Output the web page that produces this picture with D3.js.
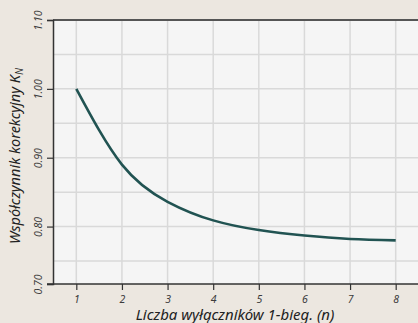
<!DOCTYPE html>
<html>
<head>
<meta charset="utf-8">
<script src="https://cdn.jsdelivr.net/npm/d3@7"></script>
<style>
  body { margin: 0; background: #ece7e0; }
  svg { display: block; }
  text { font-family: "Noto Sans", "Open Sans", sans-serif; font-style: italic; }
</style>
</head>
<body>
<div class="chart"></div>
<script>
  // Data
  const nValues = [1, 2, 3, 4, 5, 6, 7, 8];
  const kValues = [1.000, 0.890, 0.836, 0.809, 0.795, 0.787, 0.782, 0.780];
  const yTickValues = [0.70, 0.80, 0.90, 1.00, 1.10];
  const yGridValues = [0.75, 0.80, 0.85, 0.90, 0.95, 1.00, 1.05];
  const xTickValues = [1, 2, 3, 4, 5, 6, 7, 8];

  const width = 418;
  const height = 323;
  const plotLeft = 53, plotTop = 20, plotBottom = 284;

  const svg = d3.select('.chart')
      .append('svg')
      .attr('width', width)
      .attr('height', height);

  const x = d3.scaleLinear()
      .domain([0.5, 8.5])
      .range([plotLeft + 0.5, width + 0.5]);

  // axis is cut short at the bottom, so the scale is piecewise
  const y = d3.scaleLinear()
      .domain([0.70, 0.75, 1.10])
      .range([plotBottom, 261, plotTop]);

  // plot background
  svg.append('rect')
      .attr('x', plotLeft)
      .attr('y', plotTop)
      .attr('width', width - plotLeft)
      .attr('height', plotBottom - plotTop)
      .attr('fill', '#f5f5f5');

  // grid
  const grid = svg.append('g').attr('stroke', '#d9d9d9').attr('stroke-width', 1.5);
  grid.selectAll('.hgrid')
      .data(yGridValues)
      .enter().append('line')
      .attr('x1', plotLeft)
      .attr('x2', width)
      .attr('y1', d => y(d))
      .attr('y2', d => y(d));
  grid.selectAll('.vgrid')
      .data(xTickValues)
      .enter().append('line')
      .attr('x1', d => x(d))
      .attr('x2', d => x(d))
      .attr('y1', plotTop)
      .attr('y2', plotBottom);

  // curve
  const line = d3.line()
      .x((d, i) => x(nValues[i]))
      .y(d => y(d))
      .curve(d3.curveNatural);

  svg.append('path')
      .datum(kValues)
      .attr('d', line)
      .attr('fill', 'none')
      .attr('stroke', '#215352')
      .attr('stroke-width', 2.6);

  // top border
  svg.append('line')
      .attr('x1', plotLeft)
      .attr('x2', width)
      .attr('y1', plotTop)
      .attr('y2', plotTop)
      .attr('stroke', '#555')
      .attr('stroke-width', 2);

  // y axis
  const yAxis = svg.append('g')
      .attr('transform', `translate(${plotLeft},0)`)
      .call(d3.axisLeft(y).tickValues(yTickValues).tickSize(6).tickPadding(0).tickFormat(d3.format('.2f')));
  yAxis.select('.domain').attr('stroke', '#333').attr('stroke-width', 1.5);
  yAxis.selectAll('.tick line').attr('stroke', '#333').attr('stroke-width', 1.2);
  yAxis.selectAll('.tick text')
      .attr('x', null)
      .attr('dy', null)
      .attr('text-anchor', 'middle')
      .attr('transform', 'translate(-11,0) rotate(-90)')
      .attr('font-size', '10.5px')
      .attr('fill', '#3c3c3c');

  // x axis
  const xAxis = svg.append('g')
      .attr('transform', `translate(0,${plotBottom})`)
      .call(d3.axisBottom(x).tickValues(xTickValues).tickSize(6).tickPadding(6).tickFormat(d3.format('d')));
  xAxis.select('.domain').remove();
  xAxis.append('line')
      .attr('x1', plotLeft - 6)
      .attr('x2', width)
      .attr('stroke', '#333')
      .attr('stroke-width', 1.5);
  xAxis.selectAll('.tick line').attr('stroke', '#333').attr('stroke-width', 1.2);
  xAxis.selectAll('.tick text')
      .attr('font-size', '10.5px')
      .attr('fill', '#3c3c3c');

  // axis titles
  svg.append('text')
      .attr('x', 235)
      .attr('y', 320)
      .attr('text-anchor', 'middle')
      .attr('font-size', '15px')
      .attr('fill', '#222')
      .text('Liczba wyłączników 1-bieg. (n)');

  const yTitle = svg.append('text')
      .attr('transform', 'translate(20,156) rotate(-90)')
      .attr('text-anchor', 'middle')
      .attr('font-size', '14.5px')
      .attr('fill', '#222');
  yTitle.append('tspan').text('Współczynnik korekcyjny K');
  yTitle.append('tspan')
      .attr('dy', 3)
      .attr('font-size', '10px')
      .text('N');
</script>
</body>
</html>
